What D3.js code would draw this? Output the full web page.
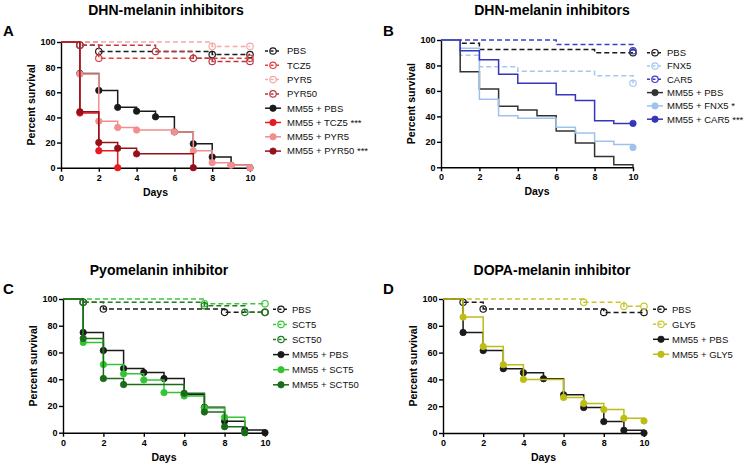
<!DOCTYPE html>
<html>
<head>
<meta charset="utf-8">
<script src="https://cdn.jsdelivr.net/npm/d3@7"></script>
<style>
  body { margin: 0; background: #fff; }
  svg { font-family: "Liberation Sans", Arial, sans-serif; }
</style>
</head>
<body>
<svg id="chart" width="756" height="466"></svg>
<script>
// days 0..10, percent survival
const xTicks = [0, 2, 4, 6, 8, 10];
const yTicks = [0, 20, 40, 60, 80, 100];

// shared controls
const pbs     = [100, 97.5, 92.5, 92.5, 92.5, 92.5, 92.5, 92.5, 90, 90, 90];
const mm55Pbs = [100, 75, 61.5, 48, 45, 40.5, 28.5, 19, 8.5, 2, 0];

// A - DHN-melanin inhibitors
const tcz5      = [100, 100, 87, 87, 87, 87, 87, 87, 87, 87, 87];
const pyr5      = [100, 100, 100, 100, 100, 100, 100, 100, 96.5, 96.5, 96.5];
const pyr50     = [100, 97.5, 97.5, 97.5, 97.5, 92.5, 92.5, 87, 84.5, 84.5, 84.5];
const mm55Tcz5  = [100, 43.5, 13.5, 0];
const mm55Pyr5  = [100, 74.5, 37, 32, 30, 30, 28.5, 13.5, 4, 2, 0];
const mm55Pyr50 = [100, 44.5, 20, 15.5, 11, 11, 11, 0];

// B - DHN-melanin inhibitors
const fnx5     = [100, 88, 79, 79, 75.5, 75.5, 75.5, 75.5, 72, 72, 66];
const car5     = [100, 100, 100, 100, 100, 100, 96.5, 96.5, 96.5, 96.5, 91.5];
const mm55Fnx5 = [100, 93.5, 53.5, 40.5, 38.5, 38.5, 31.5, 27, 20.5, 18, 15.5];
const mm55Car5 = [100, 91.5, 84.5, 73, 66, 66, 57, 52.5, 36.5, 34.5, 34.5];

// C - Pyomelanin inhibitor
const sct5      = [100, 100, 100, 100, 100, 100, 100, 96.5, 96.5, 96.5, 96.5];
const sct50     = [100, 97.5, 97.5, 97.5, 97.5, 97.5, 97.5, 95, 95, 90, 90];
const mm55Sct5  = [100, 67.5, 51, 44, 39.5, 30, 27.5, 18.5, 11.5, 0];
const mm55Sct50 = [100, 70.5, 40.5, 36, 36, 36, 29.5, 15.5, 4.5, 0];

// D - DOPA-melanin inhibitor
const gly5     = [100, 100, 100, 100, 100, 100, 100, 97.5, 97.5, 94.5, 94.5];
const mm55Gly5 = [100, 86.5, 64.5, 51, 40, 40, 26.5, 22, 17.5, 11, 9];

const BLACK = "#1a1a1a";

const panels = [
  { letter: "A", title: "DHN-melanin inhibitors", x0: 61, x1: 250, yTop: 42, yBot: 167.7,
    titleX: 166, titleY: 15, letterX: 3, letterY: 36, legX: 273, legTextX: 287, legY: 51, legDy: 14.3, markAll: true,
    series: [
      { name: "PBS", values: pbs, color: BLACK, dashed: true },
      { name: "TCZ5", values: tcz5, color: "#e2413f", dashed: true },
      { name: "PYR5", values: pyr5, color: "#f4aaaa", dashed: true },
      { name: "PYR50", values: pyr50, color: "#b83a42", dashed: true },
      { name: "MM55 + PBS", values: mm55Pbs, color: BLACK },
      { name: "MM55 + TCZ5 ***", values: mm55Tcz5, color: "#e8191f" },
      { name: "MM55 + PYR5", values: mm55Pyr5, color: "#f28e8e" },
      { name: "MM55 + PYR50 ***", values: mm55Pyr50, color: "#96101a" }
    ] },
  { letter: "B", title: "DHN-melanin inhibitors", x0: 441, x1: 633, yTop: 40, yBot: 167.3,
    titleX: 552, titleY: 15, letterX: 383, letterY: 36, legX: 655, legTextX: 667, legY: 52.7, legDy: 13.3, markAll: false,
    series: [
      { name: "PBS", values: pbs, color: BLACK, dashed: true },
      { name: "FNX5", values: fnx5, color: "#a4c8ee", dashed: true },
      { name: "CAR5", values: car5, color: "#3c3fc4", dashed: true },
      { name: "MM55 + PBS", values: mm55Pbs, color: "#333333" },
      { name: "MM55 + FNX5 *", values: mm55Fnx5, color: "#9dc3ec" },
      { name: "MM55 + CAR5 ***", values: mm55Car5, color: "#3436bb" }
    ] },
  { letter: "C", title: "Pyomelanin inhibitor", x0: 63, x1: 265, yTop: 299, yBot: 432.7,
    titleX: 159, titleY: 275, letterX: 3, letterY: 294, legX: 281, legTextX: 292, legY: 309.3, legDy: 15.1, markAll: true,
    series: [
      { name: "PBS", values: pbs, color: BLACK, dashed: true },
      { name: "SCT5", values: sct5, color: "#3cc63c", dashed: true },
      { name: "SCT50", values: sct50, color: "#237a23", dashed: true },
      { name: "MM55 + PBS", values: mm55Pbs, color: BLACK },
      { name: "MM55 + SCT5", values: mm55Sct5, color: "#33c433" },
      { name: "MM55 + SCT50", values: mm55Sct50, color: "#1c6b1c" }
    ] },
  { letter: "D", title: "DOPA-melanin inhibitor", x0: 443, x1: 644, yTop: 299, yBot: 433,
    titleX: 552, titleY: 275, letterX: 383, letterY: 294, legX: 661, legTextX: 672, legY: 309.3, legDy: 15,
    markAll: true,
    series: [
      { name: "PBS", values: pbs, color: BLACK, dashed: true },
      { name: "GLY5", values: gly5, color: "#c8c830", dashed: true },
      { name: "MM55 + PBS", values: mm55Pbs, color: BLACK },
      { name: "MM55 + GLY5", values: mm55Gly5, color: "#bdbd14" }
    ] }
];

const svg = d3.select("#chart");

panels.forEach(p => {
  const g = svg.append("g");
  const x = d3.scaleLinear().domain([0, 10]).range([p.x0, p.x1]);
  const y = d3.scaleLinear().domain([0, 100]).range([p.yBot, p.yTop]);

  // titles
  g.append("text").attr("x", p.titleX).attr("y", p.titleY)
    .attr("text-anchor", "middle").attr("font-size", 14).attr("font-weight", "bold")
    .text(p.title);
  g.append("text").attr("x", p.letterX).attr("y", p.letterY)
    .attr("font-size", 15).attr("font-weight", "bold").text(p.letter);

  // axes
  const yAxis = g.append("g").attr("transform", `translate(${p.x0},0)`)
    .call(d3.axisLeft(y).tickValues(yTicks).tickSize(4).tickSizeOuter(0).tickPadding(1.5));
  const xAxis = g.append("g").attr("transform", `translate(0,${p.yBot})`)
    .call(d3.axisBottom(x).tickValues(xTicks).tickSize(4).tickSizeOuter(0).tickPadding(2.5));
  [yAxis, xAxis].forEach(a => {
    a.selectAll("path, line").attr("stroke", "#000").attr("stroke-width", 1.4);
    a.selectAll("text").attr("font-size", 9).attr("font-weight", "bold")
      .attr("font-family", "Liberation Sans, Arial, sans-serif").attr("fill", "#000");
  });

  g.append("text")
    .attr("transform", `translate(${p.x0 - 29.5},${(p.yTop + p.yBot) / 2}) rotate(-90)`)
    .attr("text-anchor", "middle").attr("dy", "0.35em")
    .attr("font-size", 10.5).attr("font-weight", "bold").text("Percent survival");
  g.append("text").attr("x", (p.x0 + p.x1) / 2).attr("y", p.yBot + 28)
    .attr("text-anchor", "middle")
    .attr("font-size", 10.5).attr("font-weight", "bold").text("Days");

  // curves
  const line = d3.line()
    .x((d, i) => x(i)).y(d => y(d))
    .curve(d3.curveStepAfter);

  p.series.forEach(s => {
    g.append("path").datum(s.values)
      .attr("d", line)
      .attr("fill", "none")
      .attr("stroke", s.color)
      .attr("stroke-width", 1.5)
      .attr("stroke-dasharray", s.dashed ? "5,3" : null);

    const last = s.values.length - 1;
    const marks = s.values.map((v, i) => ({ i, v })).filter(d => {
      if (!p.markAll) return d.i === last && d.v > 0;
      return d.i > 0 && (d.v !== s.values[d.i - 1] || d.i === last);
    });
    g.selectAll(null).data(marks).enter().append("circle")
      .attr("cx", d => x(d.i)).attr("cy", d => y(d.v))
      .attr("r", 3.2)
      .attr("fill", s.dashed ? "none" : s.color)
      .attr("stroke", s.color)
      .attr("stroke-width", s.dashed ? 1.2 : 0.8);
  });

  // legend
  p.series.forEach((s, k) => {
    const ly = p.legY + k * p.legDy;
    g.append("line")
      .attr("x1", p.legX - 8).attr("x2", p.legX + 8)
      .attr("y1", ly).attr("y2", ly)
      .attr("stroke", s.color).attr("stroke-width", 1.5)
      .attr("stroke-dasharray", s.dashed ? "3,2.5" : null);
    g.append("circle").attr("cx", p.legX).attr("cy", ly).attr("r", 3.2)
      .attr("fill", s.dashed ? "none" : s.color)
      .attr("stroke", s.color).attr("stroke-width", s.dashed ? 1.2 : 0.8);
    g.append("text").attr("x", p.legTextX).attr("y", ly).attr("dy", "0.35em")
      .attr("font-size", 9.5).attr("fill", "#111").text(s.name);
  });
});
</script>
</body>
</html>
